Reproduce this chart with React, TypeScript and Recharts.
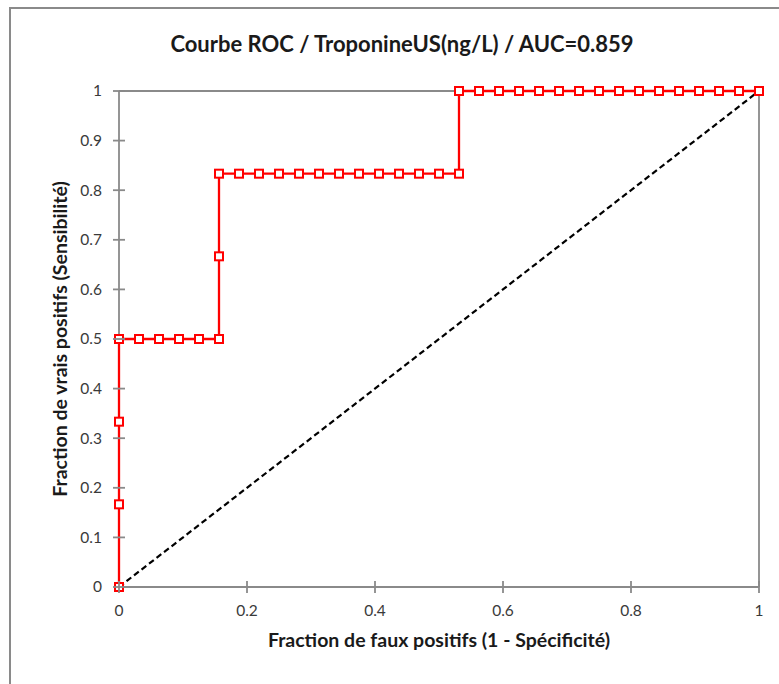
import React from 'react';
import { LineChart, Line, XAxis, YAxis, ReferenceLine } from 'recharts';

const fprValues = [0, 0, 0, 0, 0.03125, 0.0625, 0.09375, 0.125, 0.15625, 0.15625, 0.15625, 0.1875, 0.21875, 0.25, 0.28125, 0.3125, 0.34375, 0.375, 0.40625, 0.4375, 0.46875, 0.5, 0.53125, 0.53125, 0.5625, 0.59375, 0.625, 0.65625, 0.6875, 0.71875, 0.75, 0.78125, 0.8125, 0.84375, 0.875, 0.90625, 0.9375, 0.96875, 1];
const tprValues = [0, 0.1667, 0.3333, 0.5, 0.5, 0.5, 0.5, 0.5, 0.5, 0.6667, 0.8333, 0.8333, 0.8333, 0.8333, 0.8333, 0.8333, 0.8333, 0.8333, 0.8333, 0.8333, 0.8333, 0.8333, 0.8333, 1, 1, 1, 1, 1, 1, 1, 1, 1, 1, 1, 1, 1, 1, 1, 1];
const diagonalX = [0, 1];
const diagonalY = [0, 1];
const xTicks = [0, 0.2, 0.4, 0.6, 0.8, 1];
const yTicks = [0, 0.1, 0.2, 0.3, 0.4, 0.5, 0.6, 0.7, 0.8, 0.9, 1];

const rocData = fprValues.map((x, i) => ({ x, y: tprValues[i] }));
const diagData = diagonalX.map((x, i) => ({ x, d: diagonalY[i] }));

const FONT = 'Lato, "Open Sans", sans-serif';
const AXIS_COLOR = '#8a8a8a';
const TICK_SIZE = 6;
const Y_MARGIN = 11;
const X_MARGIN = 18;

const YTick = (props: any) => {
  const { x, y, payload } = props;
  const ax = x + TICK_SIZE + Y_MARGIN;
  return (
    <g>
      <line x1={ax - TICK_SIZE} x2={ax + TICK_SIZE} y1={y} y2={y} stroke={AXIS_COLOR} strokeWidth={1.8} />
      <text x={x} y={y} dy="0.35em" textAnchor="end" fontFamily={FONT} fontSize={15.5} fill="#3a3a3a">
        {String(payload.value)}
      </text>
    </g>
  );
};

const XTick = (props: any) => {
  const { x, y, payload } = props;
  const ay = y - TICK_SIZE - X_MARGIN;
  return (
    <g>
      <line x1={x} x2={x} y1={ay - TICK_SIZE} y2={ay + TICK_SIZE} stroke={AXIS_COLOR} strokeWidth={1.8} />
      <text x={x} y={y} dy="0.35em" textAnchor="middle" fontFamily={FONT} fontSize={15.5} fill="#3a3a3a">
        {String(payload.value)}
      </text>
    </g>
  );
};

const SquareDot = (props: any) => {
  const { cx, cy, index } = props;
  if (cx == null || cy == null) return <g key={`e${index}`} />;
  return (
    <rect key={`d${index}`} x={cx - 4} y={cy - 4} width={8} height={8} fill="#ffffff" stroke="#ff0000" strokeWidth={2} />
  );
};

export default function App() {
  return (
    <div style={{ position: 'absolute', left: 0, top: 0, width: 779, height: 684, overflow: 'hidden', background: '#fff' }}>
      <div style={{ position: 'absolute', left: 9, top: 7, width: 820, height: 720, borderLeft: '2px solid #8a8a8a', borderTop: '2px solid #8a8a8a' }} />
      <div style={{ position: 'absolute', left: 0, top: 30, width: 804, textAlign: 'center', fontFamily: FONT, fontWeight: 700, fontSize: 22, color: '#1a1a1a', lineHeight: '28px' }}>
        Courbe ROC / TroponineUS(ng/L) / AUC=0.859
      </div>
      <div style={{ position: 'absolute', left: 0, top: 0 }}>
        <LineChart width={779} height={684} margin={{ top: 91, right: 20, bottom: 37, left: 0 }}>
          <XAxis
            type="number"
            dataKey="x"
            domain={[0, 1]}
            ticks={xTicks}
            height={60}
            axisLine={false}
            tickLine={false}
            tickSize={TICK_SIZE}
            tickMargin={X_MARGIN}
            tick={<XTick />}
            label={{ value: 'Fraction de faux positifs (1 - Spécificité)', position: 'insideBottom', offset: 0, style: { fontFamily: FONT, fontWeight: 700, fontSize: 19.5, fill: '#1a1a1a' } }}
          />
          <YAxis
            type="number"
            domain={[0, 1]}
            ticks={yTicks}
            width={119}
            axisLine={false}
            tickLine={false}
            tickSize={TICK_SIZE}
            tickMargin={Y_MARGIN}
            tick={<YTick />}
            label={{ value: 'Fraction de vrais positifs (Sensibilité)', angle: -90, position: 'insideLeft', offset: 60, style: { textAnchor: 'middle', fontFamily: FONT, fontWeight: 700, fontSize: 19.5, fill: '#1a1a1a' } }}
          />
          <ReferenceLine y={0} stroke={AXIS_COLOR} strokeWidth={1.8} />
          <ReferenceLine x={0} stroke={AXIS_COLOR} strokeWidth={1.8} />
          <ReferenceLine y={1} stroke={AXIS_COLOR} strokeWidth={1.8} />
          <ReferenceLine x={1} stroke={AXIS_COLOR} strokeWidth={1.8} />
          <Line
            data={diagData}
            dataKey="d"
            type="linear"
            stroke="#000000"
            strokeWidth={2.2}
            strokeDasharray="6 3.5"
            dot={false}
            activeDot={false}
            isAnimationActive={false}
          />
          <Line
            data={rocData}
            dataKey="y"
            type="linear"
            stroke="#ff0000"
            strokeWidth={2.3}
            dot={<SquareDot />}
            activeDot={false}
            isAnimationActive={false}
          />
        </LineChart>
      </div>
    </div>
  );
}
